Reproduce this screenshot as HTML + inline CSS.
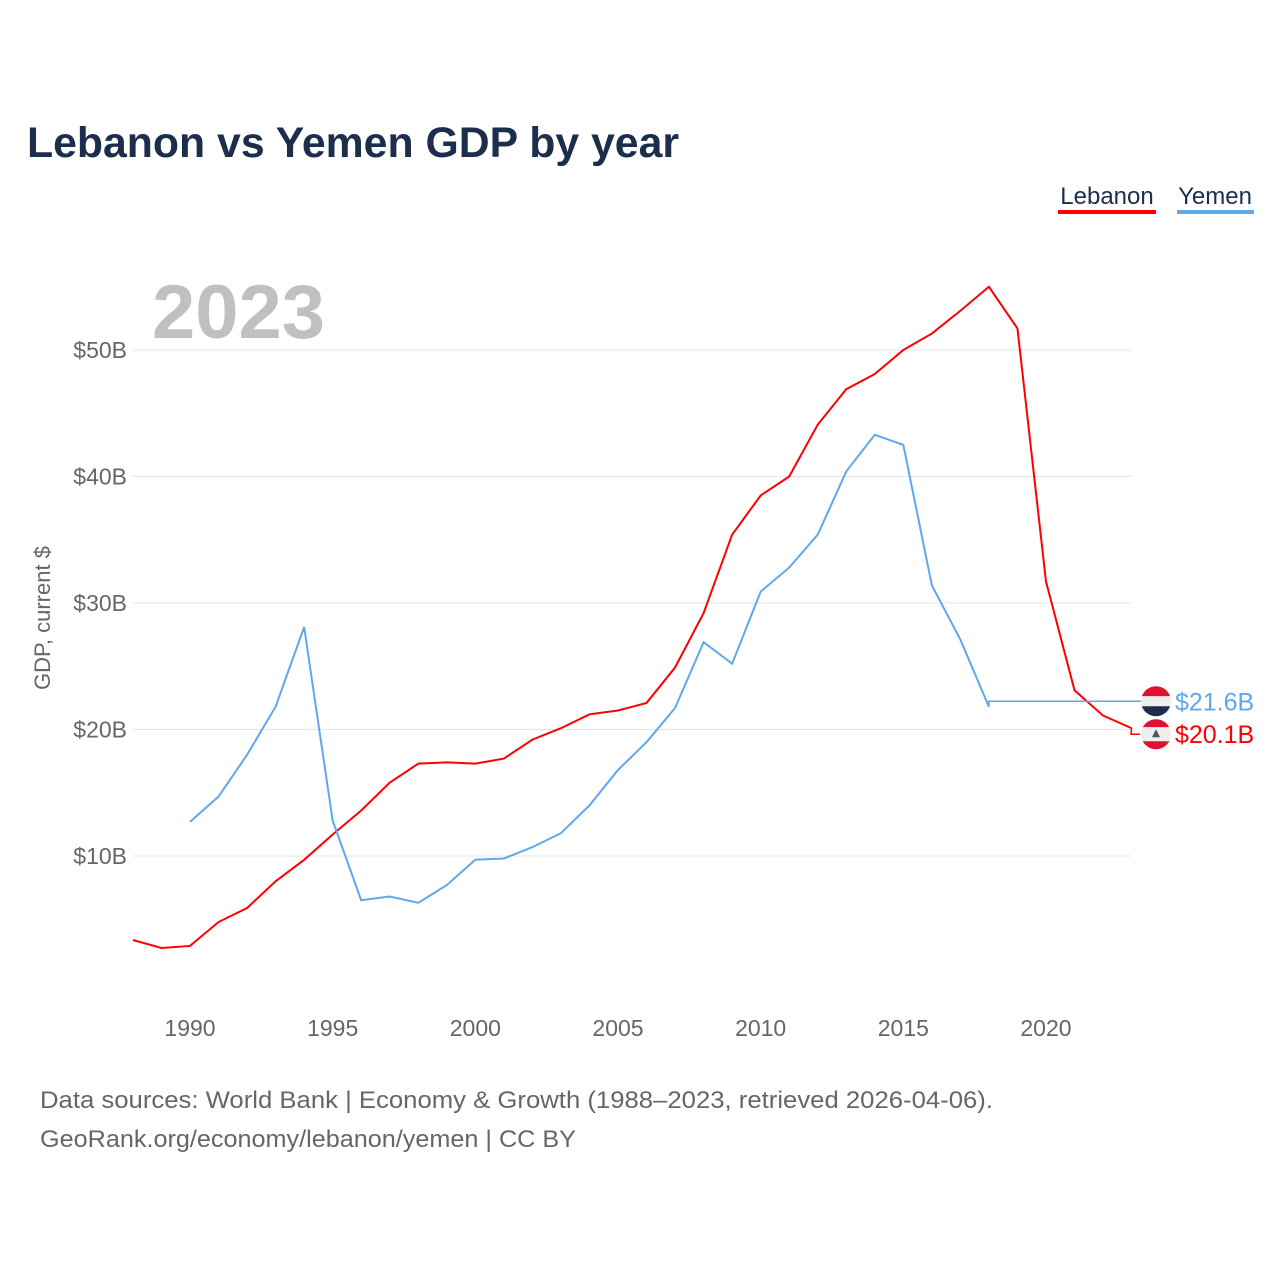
<!DOCTYPE html>
<html><head><meta charset="utf-8"><style>
body{margin:0;background:#fff;width:1280px;height:1280px;overflow:hidden;font-family:"Liberation Sans",sans-serif}
</style></head><body>
<svg id="chart" width="1280" height="1280" xmlns="http://www.w3.org/2000/svg" font-family="Liberation Sans, sans-serif">
<text x="27" y="157" font-size="43" font-weight="bold" fill="#1b2e4b" textLength="652" lengthAdjust="spacingAndGlyphs">Lebanon vs Yemen GDP by year</text>
<g><text x="1107" y="204" font-size="24" fill="#1b2e4b" text-anchor="middle">Lebanon</text><rect x="1058" y="210" width="98" height="4" fill="#ff0000"/></g>
<g><text x="1215" y="204" font-size="24" fill="#1b2e4b" text-anchor="middle">Yemen</text><rect x="1177" y="210" width="77" height="4" fill="#5fa8ee"/></g>
<text x="152" y="338" font-size="76" font-weight="bold" fill="#c0c0c0" textLength="173" lengthAdjust="spacingAndGlyphs">2023</text>
<text transform="translate(50,618) rotate(-90)" font-size="22" fill="#666" text-anchor="middle">GDP, current $</text>
<g id="grid"></g><g id="series"></g>
<text x="40" y="1108" font-size="24" fill="#666" textLength="953" lengthAdjust="spacingAndGlyphs">Data sources: World Bank | Economy &amp; Growth (1988–2023, retrieved 2026-04-06).</text>
<text x="40" y="1147" font-size="24" fill="#666" textLength="536" lengthAdjust="spacingAndGlyphs">GeoRank.org/economy/lebanon/yemen | CC BY</text>
</svg>
<script>
const lebYears=[1988,1989,1990,1991,1992,1993,1994,1995,1996,1997,1998,1999,2000,2001,2002,2003,2004,2005,2006,2007,2008,2009,2010,2011,2012,2013,2014,2015,2016,2017,2018,2019,2020,2021,2022,2023];
const lebanon=[3.36,2.73,2.89,4.78,5.89,8.0,9.7,11.7,13.6,15.8,17.3,17.4,17.3,17.7,19.2,20.1,21.2,21.5,22.1,24.9,29.2,35.4,38.5,40.0,44.1,46.9,48.1,50.0,51.3,53.1,55.0,51.7,31.7,23.1,21.1,20.1];
const yemYears=[1990,1991,1992,1993,1994,1995,1996,1997,1998,1999,2000,2001,2002,2003,2004,2005,2006,2007,2008,2009,2010,2011,2012,2013,2014,2015,2016,2017,2018];
const yemen=[12.7,14.7,18.0,21.8,28.1,12.8,6.5,6.8,6.3,7.7,9.7,9.8,10.7,11.8,14.0,16.8,19.0,21.7,26.9,25.2,30.9,32.8,35.4,40.4,43.3,42.5,31.4,27.1,21.8];
const yTicks=[10,20,30,40,50];
const xTicks=[1990,1995,2000,2005,2010,2015,2020];
const yemLast=21.6, lebLast=20.1;
const NS="http://www.w3.org/2000/svg";
const X=y=>190+(y-1990)*28.533;
const Y=v=>982.5-v*12.65;
function mk(t,a,p){const e=document.createElementNS(NS,t);for(const k in a)e.setAttribute(k,a[k]);p.appendChild(e);return e;}
const g=document.getElementById('grid'),s=document.getElementById('series');
yTicks.forEach(v=>{
 const l=mk('line',{x1:133,x2:1131,y1:Y(v),y2:Y(v),stroke:'#e6e6e6','stroke-width':1},g);
 
 
 const t=mk('text',{x:127,y:Y(v)+8,'font-size':23,fill:'#666','text-anchor':'end'},g);t.textContent='$'+v+'B';
 
 
});
xTicks.forEach(v=>{
 const t=mk('text',{x:X(v),y:1036,'font-size':23,fill:'#666','text-anchor':'middle'},g);t.textContent=v;
 
 
});
const pl=mk('polyline',{points:lebYears.map((y,i)=>X(y)+','+Y(lebanon[i])).join(' '),fill:'none',stroke:'#ff0000','stroke-width':2},s);


const py=mk('polyline',{points:yemYears.map((y,i)=>X(y)+','+Y(yemen[i])).join(' '),fill:'none',stroke:'#5fa8ee','stroke-width':2},s);


const yl=Y(yemLast)-8, ll=Y(lebLast)+6;
const c1=mk('polyline',{points:`${X(2018)},${Y(yemen[yemen.length-1])} ${X(2018)},${yl} 1142,${yl}`,fill:'none',stroke:'#5fa8ee','stroke-width':1.5},s);


const c2=mk('polyline',{points:`${X(2023)},${Y(lebLast)} 1131,${ll} 1140,${ll}`,fill:'none',stroke:'#ff0000','stroke-width':1.5},s);


const fy=mk('g',{},s);


const cpy=mk('clipPath',{id:'cy'},fy);mk('circle',{cx:1156,cy:yl,r:15},cpy);
const gy=mk('g',{'clip-path':'url(#cy)'},fy);
mk('rect',{x:1140,y:yl-16,width:32,height:11,fill:'#e0102e'},gy);
mk('rect',{x:1140,y:yl-5,width:32,height:10,fill:'#eeeeee'},gy);
mk('rect',{x:1140,y:yl+5,width:32,height:11,fill:'#1b2e4b'},gy);
const fl=mk('g',{},s);


const cp=mk('clipPath',{id:'cl'},fl);mk('circle',{cx:1156,cy:ll,r:15},cp);
const gl=mk('g',{'clip-path':'url(#cl)'},fl);
mk('rect',{x:1140,y:ll-16,width:32,height:9,fill:'#e0102e'},gl);
mk('rect',{x:1140,y:ll-7,width:32,height:14,fill:'#eeeeee'},gl);
mk('rect',{x:1140,y:ll+7,width:32,height:9,fill:'#e0102e'},gl);
mk('polygon',{points:`1156,${ll-5} 1152,${ll+3} 1160,${ll+3}`,fill:'#555'},gl);
const t1=mk('text',{x:1175,y:yl+9,'font-size':25,fill:'#5fa8ee'},s);t1.textContent='$'+yemLast+'B';


const t2=mk('text',{x:1175,y:ll+9,'font-size':25,fill:'#ff0000'},s);t2.textContent='$'+lebLast+'B';


</script>
</body></html>
